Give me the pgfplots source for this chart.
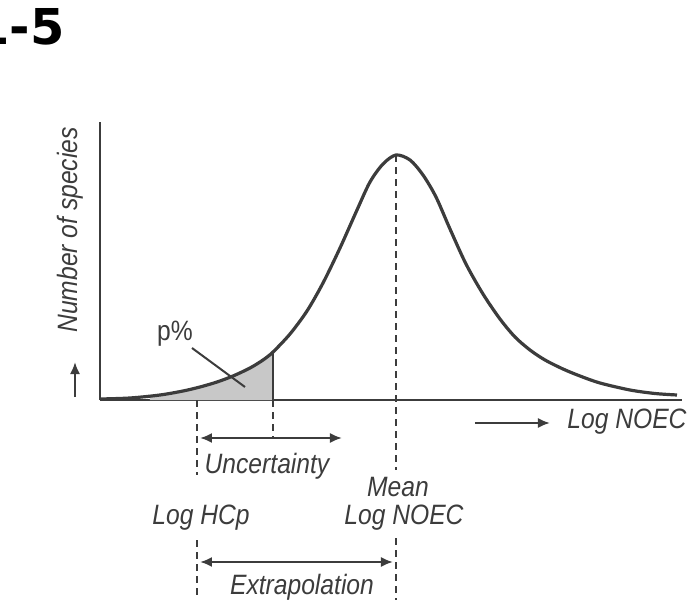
\documentclass[border=0pt]{standalone}
\usepackage{pgfplots}
\pgfplotsset{compat=1.18}
\usetikzlibrary{arrows.meta}
\usepackage{fontspec}
\setmainfont{Liberation Sans}
\newfontfamily\lblfont{Liberation Sans}[FakeStretch=0.88]
\newfontfamily\titlefont{DejaVu Sans}
\definecolor{ink}{HTML}{3C3C3C}
\definecolor{shade}{HTML}{C8C8C8}

% species sensitivity curve (x, y in px-like units)
\pgfplotstableread{
x y
0 1
30 2
60 5
83 9
100 13
117 18
133 24
150 32
163 40
173 48
190 66
207 89
223 117
240 152
257 190
270 218
283 236
296 245
310 240
323 225
336 203
350 171
366 136
383 106
400 81
415 63
430 50
445 40
463 31
480 24
500 17
530 10
555 6.5
577 5
}\curve

\pgfplotstableread{
x y
50 4
60 5
83 9
100 13
117 18
133 24
150 32
163 40
173 48
}\tail

\tikzset{lbl/.style={text=ink, font=\lblfont\fontsize{14}{16}\selectfont\itshape, inner sep=0pt},
  dsh/.style={draw=ink, line width=0.8pt, dash pattern=on 3.5pt off 2.5pt},
  arr/.style={draw=ink, line width=1pt, {Latex[length=6pt,width=5pt]}-{Latex[length=6pt,width=5pt]}}}

\begin{document}
\begin{tikzpicture}
\begin{axis}[
  width=291pt, height=139pt, scale only axis,
  xmin=0, xmax=582, ymin=0, ymax=278,
  axis lines=left,
  axis line style={-, draw=ink, line width=1pt},
  xtick=\empty, ytick=\empty,
  clip=false,
]
\addplot[fill=shade, draw=none, smooth] table[x=x,y=y]{\tail} \closedcycle;
\addplot[ink, line width=1.6pt, smooth, no marks] table[x=x,y=y]{\curve};
\addplot[ink, line width=1pt] coordinates {(173,0) (173,48)};

% dashed guides
\draw[dsh] (axis cs:97,0) -- (axis cs:97,-75);
\draw[dsh] (axis cs:97,-140) -- (axis cs:97,-200);
\draw[dsh] (axis cs:173,0) -- (axis cs:173,-37);
\draw[dsh] (axis cs:296,245) -- (axis cs:296,-70);
\draw[dsh] (axis cs:296,-138) -- (axis cs:296,-200);

% arrows
\draw[arr] (axis cs:100,-38) -- (axis cs:242,-38);
\draw[arr] (axis cs:100,-162) -- (axis cs:293,-162);
\draw[draw=ink, line width=1pt, -{Latex[length=6pt,width=5pt]}] (axis cs:375,-23) -- (axis cs:450,-23);
\draw[draw=ink, line width=1pt, -{Latex[length=6pt,width=5pt]}] (axis cs:-25,3) -- (axis cs:-25,38);

% p% leader
\draw[ink, line width=1pt] (axis cs:92,52) -- (axis cs:145,13);
\node[lbl, font=\lblfont\fontsize{14}{16}\selectfont\upshape, anchor=base] at (axis cs:75,60) {p\%};

% labels
\node[lbl, anchor=base] at (axis cs:167,-73) {Uncertainty};
\node[lbl, anchor=base] at (axis cs:298,-96) {Mean};
\node[lbl, anchor=base] at (axis cs:304,-124) {Log NOEC};
\node[lbl, anchor=base] at (axis cs:101,-124) {Log HCp};
\node[lbl, anchor=base] at (axis cs:202,-194) {Extrapolation};
\node[lbl, anchor=base west] at (axis cs:467,-28) {Log NOEC};
\node[lbl, rotate=90, anchor=base] at (axis cs:-22,170) {Number of species};

% figure number, cut off at the left edge as in the scan
\node[inner sep=0pt, anchor=base east, font=\titlefont\bfseries\fontsize{24.7}{28}\selectfont] at (axis cs:-35,355) {1-5};

\coordinate (bbA) at (axis cs:-100,-200);
\coordinate (bbB) at (axis cs:592,400);
\end{axis}
\pgfresetboundingbox
\useasboundingbox (bbA) rectangle (bbB);
\end{tikzpicture}
\end{document}
